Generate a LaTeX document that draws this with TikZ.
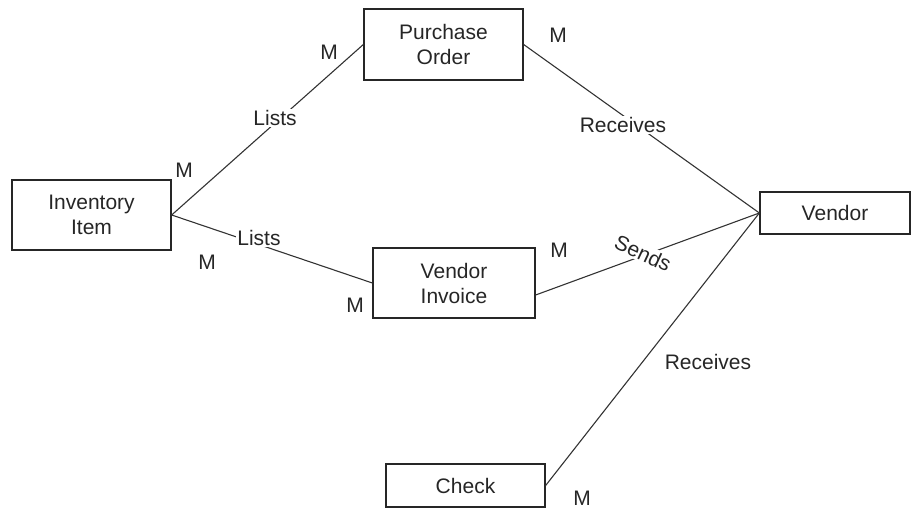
\documentclass[tikz,border=0pt]{standalone}
\usepackage{fontspec}
\setmainfont{Liberation Sans}
\begin{document}
\begin{tikzpicture}[x=1pt,y=-1pt,
  every node/.style={font=\fontsize{21}{25}\selectfont, text=black!85},
  entity/.style={draw=black!85, line width=1.3pt, inner sep=0pt, align=center},
  rel/.style={draw=black!80, line width=1.1pt},
  onlabel/.style={fill=white, inner sep=1.5pt},
  card/.style={inner sep=0pt}]
\useasboundingbox (0,0) rectangle (911,510);
% entities
\node[entity, minimum width=159pt, minimum height=70pt] (inv) at (91.5,215) {Inventory\\Item};
\node[entity, minimum width=159pt, minimum height=71pt] (po) at (443.5,44.5) {Purchase\\Order};
\node[entity, minimum width=150pt, minimum height=42pt] (ven) at (835,213) {Vendor};
\node[entity, minimum width=162pt, minimum height=70pt] (vi) at (454,283) {Vendor\\Invoice};
\node[entity, minimum width=159pt, minimum height=43pt] (chk) at (465.5,485.5) {Check};
% connectors
\draw[rel] (inv.east) -- (po.west);
\draw[rel] (inv.east) -- (vi.west);
\draw[rel] (po.east) -- (ven.west);
\draw[rel] ([yshift=-12pt]vi.east) -- (ven.west);
\draw[rel] (chk.east) -- (ven.west);
% relationship labels
\node[onlabel] (l1) at (275,118) {Lists};
\node[onlabel] (l2) at (259,238) {Lists};
\node[onlabel] (r1) at (623,125) {Receives};
\node[onlabel, rotate=-25] (s1) at (643,253) {Sends};
\node (r2) at (708,362) {Receives};
% cardinalities
\node[card] (m1) at (184,170) {M};
\node[card] (m2) at (207,262) {M};
\node[card] (m3) at (329,52) {M};
\node[card] (m4) at (558,35) {M};
\node[card] (m5) at (559,250) {M};
\node[card] (m6) at (355,305) {M};
\node[card] (m7) at (582,498) {M};
\end{tikzpicture}
\end{document}
